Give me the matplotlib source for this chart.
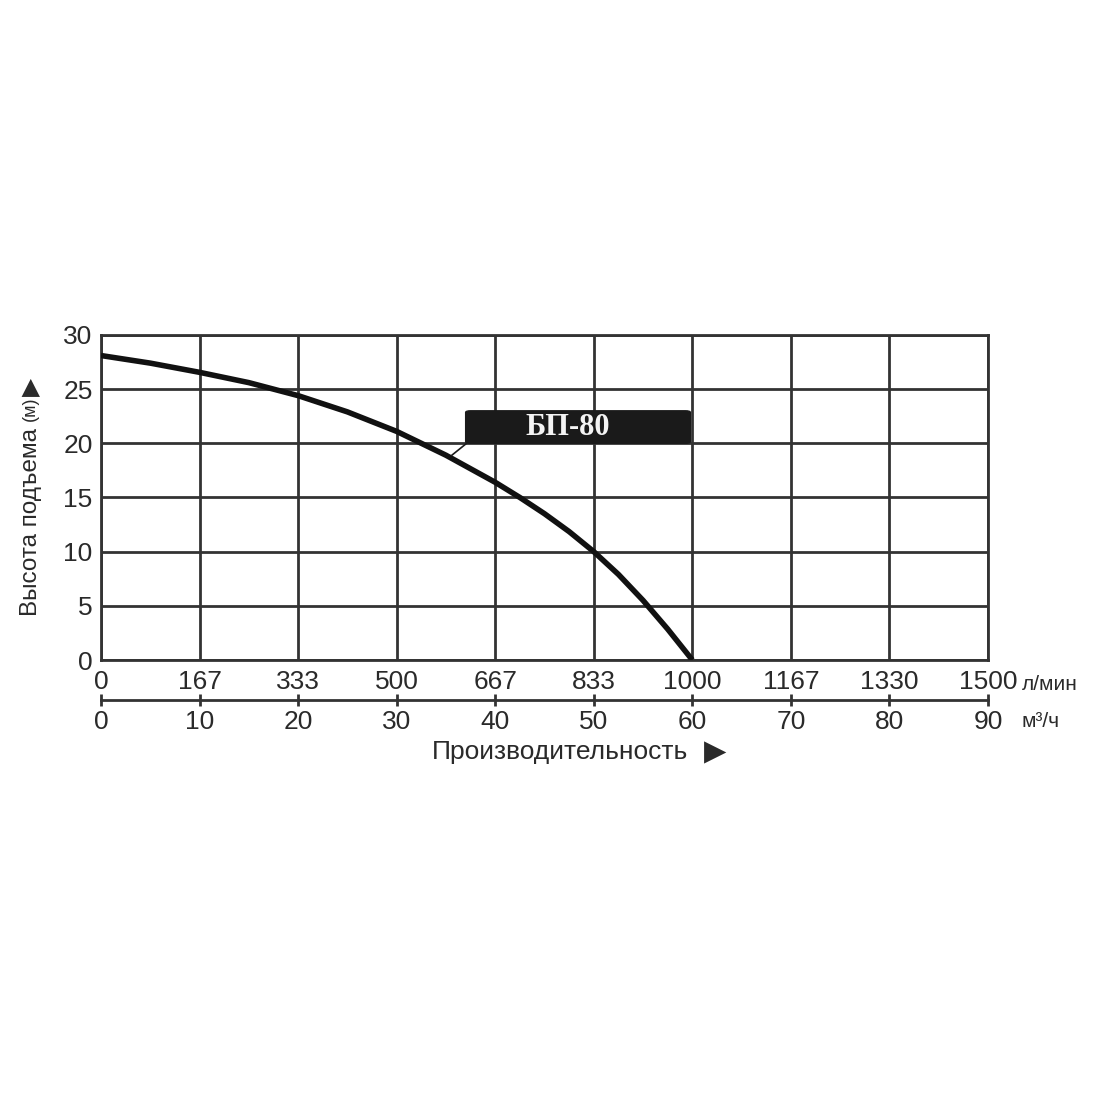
import matplotlib.pyplot as plt
from matplotlib.patches import FancyBboxPatch

plt.rcParams['font.family'] = ['Liberation Sans', 'DejaVu Sans']

# производительность, м3/ч и напор, м
q_m3h = [0, 5, 10, 15, 20, 25, 30, 35, 40, 42.5, 45, 47.5, 50, 52.5, 55, 57.5, 60]
head_m = [28.1, 27.4, 26.55, 25.6, 24.4, 22.9, 21.1, 18.9, 16.4, 15.0, 13.5, 11.85,
          10.0, 7.9, 5.5, 2.85, 0]

m3h_ticks = [0, 10, 20, 30, 40, 50, 60, 70, 80, 90]
lmin_labels = ['0', '167', '333', '500', '667', '833', '1000', '1167', '1330', '1500']
head_ticks = [0, 5, 10, 15, 20, 25, 30]

model = 'БП-80'

fig = plt.figure(figsize=(11, 11), dpi=100)
ax = fig.add_axes([0.0918, 0.4, 0.8064, 0.2955])

gc = '#333333'
tc = '#2a2a2a'
ax.set_xlim(0, 90)
ax.set_ylim(0, 30)
ax.set_xticks(m3h_ticks)
ax.set_xticklabels(lmin_labels)
ax.set_yticks(head_ticks)
ax.grid(True, color=gc, lw=2)
for s in ax.spines.values():
    s.set_color(gc)
    s.set_linewidth(2)
ax.tick_params(axis='both', length=0, labelsize=19, colors=tc, pad=6)
ax.tick_params(axis='x', pad=7)

ax.plot(q_m3h, head_m, color='#111111', lw=4, solid_capstyle='butt',
        solid_joinstyle='round', zorder=3)

# вторая ось м3/ч
sec = ax.secondary_xaxis(-0.123)
sec.set_xticks(m3h_ticks)
sec.spines['bottom'].set_color(gc)
sec.spines['bottom'].set_linewidth(2)
sec.tick_params(axis='x', direction='inout', length=8, width=2, color=gc,
                labelsize=19, labelcolor=tc, pad=3)

ax.text(1.038, -0.075, 'л/мин', transform=ax.transAxes, fontsize=15,
        color=tc, ha='left', va='center')
ax.text(1.038, -0.19, 'м³/ч', transform=ax.transAxes, fontsize=15,
        color=tc, ha='left', va='center')

fig.text(0.393, 0.316, 'Производительность', fontsize=19, color=tc,
         ha='left', va='center')
fig.text(0.640, 0.316, '▶', fontsize=21, color=tc, family='DejaVu Sans',
         ha='left', va='center')

fig.text(0.028, 0.5259, 'Высота подъема', fontsize=17.5, color=tc,
         ha='center', va='center', rotation=90)
fig.text(0.028, 0.6286, '(м)', fontsize=13, color=tc,
         ha='center', va='center', rotation=90)
fig.text(0.028, 0.6485, '▶', fontsize=17, color=tc, family='DejaVu Sans',
         ha='center', va='center', rotation=90)

# метка модели
box = FancyBboxPatch((37.0, 20.0), 22.8, 3.0, boxstyle='round,pad=0,rounding_size=0.5',
                     fc='#1a1a1a', ec='#1a1a1a', lw=1, zorder=4,
                     mutation_aspect=0.3)
ax.add_patch(box)
ax.text(47.4, 21.5, model, fontsize=22, fontweight='bold', color='#f4f4f4',
        family=['Liberation Serif', 'DejaVu Serif'], ha='center', va='center', zorder=5)
ax.plot([37.1, 35.6], [20.0, 18.9], color='#1a1a1a', lw=1.2, zorder=4)

fig.savefig('out.png', dpi=100, facecolor='white')
